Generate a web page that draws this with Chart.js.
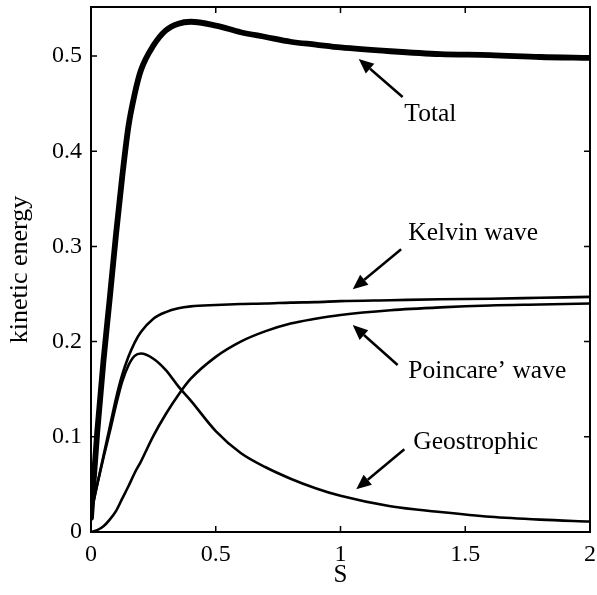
<!DOCTYPE html>
<html><head><meta charset="utf-8">
<script src="https://cdn.jsdelivr.net/npm/chart.js@4.4.1/dist/chart.umd.min.js"></script>
<style>html,body{margin:0;padding:0;background:#fff;}</style>
</head><body>
<canvas id="c" width="597" height="595" style="width:597px;height:595px;display:block"></canvas>
<script>
const sValues     = [0, 0.025, 0.05, 0.075, 0.1, 0.125, 0.15, 0.175, 0.2, 0.25, 0.3, 0.35, 0.4, 0.5, 0.6, 0.7, 0.8, 0.9, 1.0, 1.2, 1.4, 1.6, 1.8, 2.0];
const totalKE     = [0.015, 0.105, 0.180, 0.245, 0.312, 0.373, 0.426, 0.460, 0.485, 0.511, 0.527, 0.534, 0.536, 0.532, 0.525, 0.520, 0.515, 0.512, 0.509, 0.505, 0.502, 0.501, 0.499, 0.498];
const kelvinKE    = [0.020, 0.050, 0.080, 0.110, 0.140, 0.165, 0.184, 0.199, 0.210, 0.224, 0.231, 0.235, 0.237, 0.2385, 0.2395, 0.240, 0.241, 0.2415, 0.2425, 0.2435, 0.2445, 0.245, 0.246, 0.247];
const poincareKE  = [0, 0.002, 0.006, 0.013, 0.022, 0.035, 0.048, 0.062, 0.074, 0.101, 0.124, 0.144, 0.161, 0.184, 0.200, 0.211, 0.219, 0.224, 0.228, 0.233, 0.236, 0.238, 0.239, 0.240];
const geoKE       = [0.020, 0.050, 0.078, 0.105, 0.133, 0.158, 0.175, 0.185, 0.1875, 0.182, 0.170, 0.153, 0.138, 0.106, 0.083, 0.068, 0.056, 0.046, 0.038, 0.027, 0.021, 0.016, 0.013, 0.011];
const xTickValues = [0, 0.5, 1, 1.5, 2];
const yTickValues = [0, 0.1, 0.2, 0.3, 0.4, 0.5];
const xAxisLabel  = 'S';
const yAxisLabel  = 'kinetic energy';
const labelTexts  = ['Total', 'Kelvin wave', "Poincare’ wave", 'Geostrophic'];

const FONT = '"Liberation Serif", "Times New Roman", serif';
const pts = arr => sValues.map((s, i) => ({x: s, y: arr[i]}));

const annotations = [
  {text: labelTexts[0], tip: [1.073, 0.497], tail: [1.249, 0.457], at: [1.256, 0.439]},
  {text: labelTexts[1], tip: [1.049, 0.255], tail: [1.243, 0.297], at: [1.272, 0.314]},
  {text: labelTexts[2], tip: [1.049, 0.2174], tail: [1.229, 0.1754], at: [1.272, 0.169]},
  {text: labelTexts[3], tip: [1.063, 0.0449], tail: [1.256, 0.0869], at: [1.292, 0.0945]}
];

const framePlugin = {
  id: 'frame',
  afterDraw(chart) {
    const {ctx, chartArea: a, scales: {x, y}} = chart;
    ctx.save();
    ctx.strokeStyle = '#000';
    ctx.lineWidth = 2;
    ctx.strokeRect(a.left, a.top, a.right - a.left, a.bottom - a.top);
    ctx.lineWidth = 1.5;
    const L = 6;
    ctx.beginPath();
    xTickValues.forEach(v => {
      const p = x.getPixelForValue(v);
      ctx.moveTo(p, a.bottom); ctx.lineTo(p, a.bottom - L);
      ctx.moveTo(p, a.top); ctx.lineTo(p, a.top + L);
    });
    yTickValues.forEach(v => {
      const p = y.getPixelForValue(v);
      ctx.moveTo(a.left, p); ctx.lineTo(a.left + L, p);
      ctx.moveTo(a.right, p); ctx.lineTo(a.right - L, p);
    });
    ctx.stroke();
    ctx.fillStyle = '#000';
    ctx.font = '25.5px ' + FONT;
    ctx.textBaseline = 'middle';
    ctx.textAlign = 'left';
    annotations.forEach(an => {
      const tx = x.getPixelForValue(an.tip[0]), ty = y.getPixelForValue(an.tip[1]);
      const sx = x.getPixelForValue(an.tail[0]), sy = y.getPixelForValue(an.tail[1]);
      const ang = Math.atan2(ty - sy, tx - sx);
      const HL = 15, HW = 6.5;
      const bx = tx - HL * Math.cos(ang), by = ty - HL * Math.sin(ang);
      ctx.lineWidth = 2.5;
      ctx.beginPath(); ctx.moveTo(sx, sy); ctx.lineTo(bx, by); ctx.stroke();
      ctx.beginPath();
      ctx.moveTo(tx, ty);
      ctx.lineTo(bx + HW * Math.sin(ang), by - HW * Math.cos(ang));
      ctx.lineTo(bx - HW * Math.sin(ang), by + HW * Math.cos(ang));
      ctx.closePath(); ctx.fill();
      ctx.fillText(an.text, x.getPixelForValue(an.at[0]), y.getPixelForValue(an.at[1]));
    });
    ctx.restore();
  }
};

const lineDs = (label, data, w) => ({
  label, data: pts(data), borderColor: '#000', borderWidth: w,
  pointRadius: 0, fill: false, cubicInterpolationMode: 'monotone', borderCapStyle: 'round', borderJoinStyle: 'round'
});

new Chart(document.getElementById('c'), {
  type: 'line',
  data: {
    datasets: [
      lineDs('Total', totalKE, 5.8),
      lineDs('Kelvin wave', kelvinKE, 2.6),
      lineDs("Poincare' wave", poincareKE, 2.6),
      lineDs('Geostrophic', geoKE, 2.6)
    ]
  },
  options: {
    responsive: false,
    animation: false,
    devicePixelRatio: 1,
    layout: {autoPadding: false, padding: {left: 0, right: 7, top: 7, bottom: 0}},
    plugins: {legend: {display: false}, tooltip: {enabled: false}},
    scales: {
      x: {
        type: 'linear', min: 0, max: 2,
        afterBuildTicks: s => { s.ticks = xTickValues.map(v => ({value: v})); },
        afterFit: s => { s.height = 63; s.paddingLeft = 0; s.paddingRight = 0; },
        grid: {display: false, drawTicks: false},
        border: {display: false},
        ticks: {color: '#000', font: {family: FONT, size: 24}, padding: 8, maxRotation: 0,
                callback: v => String(v)},
        title: {display: true, text: xAxisLabel, color: '#000', font: {family: FONT, size: 25}, padding: {top: 0, bottom: 5}}
      },
      y: {
        type: 'linear', min: 0, max: 0.5515,
        afterBuildTicks: s => { s.ticks = yTickValues.map(v => ({value: v})); },
        afterFit: s => { s.width = 91; s.paddingTop = 0; s.paddingBottom = 0; },
        grid: {display: false, drawTicks: false},
        border: {display: false},
        ticks: {color: '#000', font: {family: FONT, size: 24}, padding: 9,
                callback: v => String(v)},
        title: {display: true, text: yAxisLabel, color: '#000', font: {family: FONT, size: 26}, padding: {top: 5, bottom: 0}}
      }
    }
  },
  plugins: [framePlugin]
});
</script>
</body></html>
